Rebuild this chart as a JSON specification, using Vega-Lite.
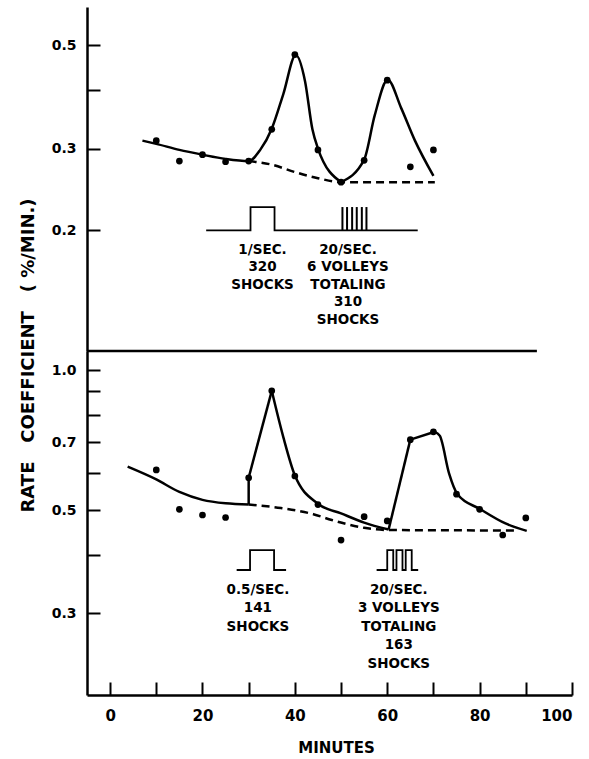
{
  "$schema": "https://vega.github.io/schema/vega-lite/v6.json",
  "background": "white",
  "padding": {"left": 19, "top": 7, "right": 4, "bottom": 2},
  "bounds": "flush",
  "spacing": 0,
  "config": {
    "view": {"stroke": null},
    "font": "DejaVu Sans",
    "axis": {
      "domainColor": "black", "domainWidth": 2.5, "tickColor": "black", "tickWidth": 2,
      "labelColor": "black", "labelFont": "DejaVu Sans", "labelFontWeight": "bold",
      "titleColor": "black", "titleFont": "DejaVu Sans", "titleFontWeight": "bold",
      "grid": false
    }
  },
  "datasets": {
    "top_pts": [
      {"x": 10, "y": 0.312}, {"x": 15, "y": 0.282}, {"x": 20, "y": 0.291}, {"x": 25, "y": 0.281},
      {"x": 30, "y": 0.282}, {"x": 35, "y": 0.330}, {"x": 40, "y": 0.478}, {"x": 45, "y": 0.298},
      {"x": 50, "y": 0.254}, {"x": 55, "y": 0.283}, {"x": 60, "y": 0.421}, {"x": 65, "y": 0.274},
      {"x": 70, "y": 0.298}
    ],
    "top_solid": [
      {"seg": "A", "x": 7, "y": 0.312}, {"seg": "A", "x": 10, "y": 0.307}, {"seg": "A", "x": 15, "y": 0.298},
      {"seg": "A", "x": 20, "y": 0.291}, {"seg": "A", "x": 25, "y": 0.285}, {"seg": "A", "x": 30, "y": 0.282},
      {"seg": "A", "x": 32.5, "y": 0.298}, {"seg": "A", "x": 35, "y": 0.331}, {"seg": "A", "x": 37.5, "y": 0.393},
      {"seg": "A", "x": 40.2, "y": 0.477}, {"seg": "A", "x": 42.2, "y": 0.419}, {"seg": "A", "x": 43.8, "y": 0.33},
      {"seg": "A", "x": 45, "y": 0.300}, {"seg": "A", "x": 50, "y": 0.254},
      {"seg": "B", "x": 50, "y": 0.254}, {"seg": "B", "x": 55, "y": 0.284}, {"seg": "B", "x": 57.3, "y": 0.354},
      {"seg": "B", "x": 60.1, "y": 0.422}, {"seg": "B", "x": 63, "y": 0.367}, {"seg": "B", "x": 66, "y": 0.312},
      {"seg": "B", "x": 70, "y": 0.262}
    ],
    "top_dash": [
      {"x": 30, "y": 0.282}, {"x": 35, "y": 0.277}, {"x": 40, "y": 0.267}, {"x": 45, "y": 0.259},
      {"x": 50, "y": 0.254}, {"x": 70.3, "y": 0.254}
    ],
    "top_pulse": [
      {"i": 1, "x": 20.8, "y": 0.2}, {"i": 2, "x": 30.4, "y": 0.2}, {"i": 3, "x": 30.4, "y": 0.2245},
      {"i": 4, "x": 35.6, "y": 0.2245}, {"i": 5, "x": 35.6, "y": 0.2}, {"i": 6, "x": 66.6, "y": 0.2}
    ],
    "top_bars": [
      {"x": 50.3, "y": 0.2, "y2": 0.2245}, {"x": 51.3, "y": 0.2, "y2": 0.2245}, {"x": 52.4, "y": 0.2, "y2": 0.2245},
      {"x": 53.4, "y": 0.2, "y2": 0.2245}, {"x": 54.5, "y": 0.2, "y2": 0.2245}, {"x": 55.5, "y": 0.2, "y2": 0.2245}
    ],
    "top_sep": [{"x": -5, "x2": 92.4, "y": 0.11}],
    "top_text": [
      {"x": 33.0, "y": 0.178, "label": "1/SEC.\n320\nSHOCKS"},
      {"x": 51.5, "y": 0.178, "label": "20/SEC.\n6 VOLLEYS\nTOTALING\n310\nSHOCKS"}
    ],
    "bot_pts": [
      {"x": 10, "y": 0.610}, {"x": 15, "y": 0.502}, {"x": 20, "y": 0.488}, {"x": 25, "y": 0.482},
      {"x": 30, "y": 0.587}, {"x": 35, "y": 0.903}, {"x": 40, "y": 0.592}, {"x": 45, "y": 0.514},
      {"x": 50, "y": 0.431}, {"x": 55, "y": 0.484}, {"x": 60, "y": 0.474}, {"x": 65, "y": 0.709},
      {"x": 70, "y": 0.737}, {"x": 75, "y": 0.541}, {"x": 80, "y": 0.502}, {"x": 85, "y": 0.442},
      {"x": 90, "y": 0.481}
    ],
    "bot_solid": [
      {"seg": "S1", "x": 3.8, "y": 0.620}, {"seg": "S1", "x": 10, "y": 0.582}, {"seg": "S1", "x": 15, "y": 0.547},
      {"seg": "S1", "x": 20, "y": 0.526}, {"seg": "S1", "x": 25, "y": 0.517}, {"seg": "S1", "x": 30, "y": 0.514},
      {"seg": "S2", "x": 30, "y": 0.514}, {"seg": "S2", "x": 30, "y": 0.587},
      {"seg": "S3", "x": 30, "y": 0.587}, {"seg": "S3", "x": 35, "y": 0.903},
      {"seg": "S4", "x": 35, "y": 0.903}, {"seg": "S4", "x": 37.5, "y": 0.718}, {"seg": "S4", "x": 40, "y": 0.594},
      {"seg": "S4", "x": 45, "y": 0.516}, {"seg": "S4", "x": 50, "y": 0.492}, {"seg": "S4", "x": 55, "y": 0.470},
      {"seg": "S4", "x": 60.3, "y": 0.454},
      {"seg": "S5", "x": 60.3, "y": 0.454}, {"seg": "S5", "x": 65, "y": 0.709},
      {"seg": "S6", "x": 65, "y": 0.709}, {"seg": "S6", "x": 70.3, "y": 0.737},
      {"seg": "S7", "x": 70.3, "y": 0.737}, {"seg": "S7", "x": 71.4, "y": 0.722}, {"seg": "S7", "x": 73.4, "y": 0.599},
      {"seg": "S7", "x": 75.2, "y": 0.541}, {"seg": "S7", "x": 80.2, "y": 0.502}, {"seg": "S7", "x": 85.6, "y": 0.468},
      {"seg": "S7", "x": 90.2, "y": 0.451}
    ],
    "bot_dash": [
      {"x": 30, "y": 0.514}, {"x": 37, "y": 0.505}, {"x": 44, "y": 0.490}, {"x": 48, "y": 0.476},
      {"x": 55, "y": 0.458}, {"x": 60.3, "y": 0.453}, {"x": 88.3, "y": 0.452}
    ],
    "bot_pulse": [
      {"g": 1, "i": 1, "x": 27.4, "y": 0.3716}, {"g": 1, "i": 2, "x": 30.3, "y": 0.3716}, {"g": 1, "i": 3, "x": 30.3, "y": 0.41},
      {"g": 1, "i": 4, "x": 35.5, "y": 0.41}, {"g": 1, "i": 5, "x": 35.5, "y": 0.3716}, {"g": 1, "i": 6, "x": 38.1, "y": 0.3716},
      {"g": 2, "i": 1, "x": 57.7, "y": 0.3716}, {"g": 2, "i": 2, "x": 60, "y": 0.3716}, {"g": 2, "i": 3, "x": 60, "y": 0.41},
      {"g": 2, "i": 4, "x": 61.3, "y": 0.41}, {"g": 2, "i": 5, "x": 61.3, "y": 0.3716}, {"g": 2, "i": 6, "x": 62, "y": 0.3716},
      {"g": 2, "i": 7, "x": 62, "y": 0.41}, {"g": 2, "i": 8, "x": 63.3, "y": 0.41}, {"g": 2, "i": 9, "x": 63.3, "y": 0.3716},
      {"g": 2, "i": 10, "x": 64, "y": 0.3716}, {"g": 2, "i": 11, "x": 64, "y": 0.41}, {"g": 2, "i": 12, "x": 65.3, "y": 0.41},
      {"g": 2, "i": 13, "x": 65.3, "y": 0.3716}, {"g": 2, "i": 14, "x": 66.7, "y": 0.3716}
    ],
    "bot_text": [
      {"x": 32.0, "y": 0.330, "label": "0.5/SEC.\n141\nSHOCKS"},
      {"x": 62.5, "y": 0.330, "label": "20/SEC.\n3 VOLLEYS\nTOTALING\n163\nSHOCKS"}
    ]
  },
  "vconcat": [
    {
      "width": 485,
      "height": 344,
      "encoding": {
        "x": {"field": "x", "type": "quantitative", "scale": {"domain": [-5, 100], "nice": false, "zero": false}, "axis": null},
        "y": {
          "field": "y", "type": "quantitative",
          "scale": {"type": "log", "domain": [0.11, 0.605], "nice": false},
          "axis": {
            "values": [0.2, 0.3, 0.4, 0.5],
            "labelExpr": "datum.value == 0.4 ? '' : format(datum.value, '.1f')",
            "tickSize": -13, "labelPadding": 24, "labelFontSize": 14,
            "title": "RATE\u00a0\u00a0\u00a0COEFFICIENT\u00a0\u00a0\u00a0(\u00a0%/MIN.)",
            "titleFontSize": 18, "titleAngle": -90, "titleX": -59, "titleY": 348,
            "titleAlign": "center", "titleBaseline": "middle"
          }
        }
      },
      "layer": [
        {"data": {"name": "top_sep"}, "mark": {"type": "rule", "color": "black", "strokeWidth": 2.5}, "encoding": {"x2": {"field": "x2"}}},
        {"data": {"name": "top_dash"}, "mark": {"type": "line", "color": "black", "strokeWidth": 2.5, "strokeDash": [8, 5], "interpolate": "monotone"}},
        {"data": {"name": "top_solid"}, "mark": {"type": "line", "color": "black", "strokeWidth": 2.5, "interpolate": "monotone"}, "encoding": {"detail": {"field": "seg"}}},
        {"data": {"name": "top_pts"}, "mark": {"type": "circle", "color": "black", "opacity": 1, "size": 45}},
        {"data": {"name": "top_pulse"}, "mark": {"type": "line", "color": "black", "strokeWidth": 1.8}, "encoding": {"order": {"field": "i"}}},
        {"data": {"name": "top_bars"}, "mark": {"type": "rule", "color": "black", "strokeWidth": 2}, "encoding": {"y2": {"field": "y2"}}},
        {"data": {"name": "top_text"}, "mark": {"type": "text", "color": "black", "font": "DejaVu Sans", "fontWeight": "bold", "fontSize": 13.5, "align": "center", "baseline": "alphabetic", "lineBreak": "\n", "lineHeight": 17.5}, "encoding": {"text": {"field": "label"}}}
      ]
    },
    {
      "width": 485,
      "height": 344,
      "encoding": {
        "x": {
          "field": "x", "type": "quantitative", "scale": {"domain": [-5, 100], "nice": false, "zero": false},
          "axis": {
            "values": [0, 10, 20, 30, 40, 50, 60, 70, 80, 90, 100],
            "labelExpr": "datum.value % 20 == 0 ? format(datum.value, 'd') : ''",
            "tickSize": -13, "labelPadding": 26, "labelFontSize": 15, "labelBaseline": "top",
            "title": "MINUTES", "titleFontSize": 15, "titleX": 249, "titleY": 57,
            "titleAlign": "center", "titleBaseline": "alphabetic"
          }
        },
        "y": {
          "field": "y", "type": "quantitative",
          "scale": {"type": "log", "domain": [0.2, 1.1], "nice": false},
          "axis": {
            "values": [0.3, 0.4, 0.5, 0.6, 0.7, 0.8, 0.9, 1.0],
            "labelExpr": "(datum.value == 0.3 || datum.value == 0.5 || datum.value == 0.7 || datum.value == 1) ? format(datum.value, '.1f') : ''",
            "tickSize": -13, "labelPadding": 24, "labelFontSize": 14,
            "title": null
          }
        }
      },
      "layer": [
        {"data": {"name": "bot_dash"}, "mark": {"type": "line", "color": "black", "strokeWidth": 2.5, "strokeDash": [8, 5], "interpolate": "monotone"}},
        {"data": {"name": "bot_solid"}, "mark": {"type": "line", "color": "black", "strokeWidth": 2.5, "interpolate": "monotone"}, "encoding": {"detail": {"field": "seg"}}},
        {"data": {"name": "bot_pts"}, "mark": {"type": "circle", "color": "black", "opacity": 1, "size": 45}},
        {"data": {"name": "bot_pulse"}, "mark": {"type": "line", "color": "black", "strokeWidth": 1.8}, "encoding": {"detail": {"field": "g"}, "order": {"field": "i"}}},
        {"data": {"name": "bot_text"}, "mark": {"type": "text", "color": "black", "font": "DejaVu Sans", "fontWeight": "bold", "fontSize": 13.5, "align": "center", "baseline": "alphabetic", "lineBreak": "\n", "lineHeight": 18.5}, "encoding": {"text": {"field": "label"}}}
      ]
    }
  ]
}
